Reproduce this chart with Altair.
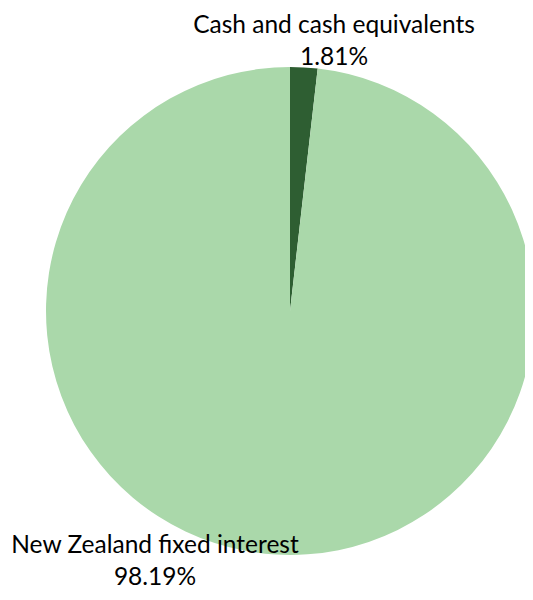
import altair as alt
import pandas as pd

categories = ["Cash and cash equivalents", "New Zealand fixed interest"]
values = [1.81, 98.19]
colors = ["#2e5e32", "#aad8aa"]

df = pd.DataFrame({"category": categories, "value": values, "order": [0, 1]})
df["label"] = df["category"] + "\n" + df["value"].map(lambda v: f"{v:.2f}%")

base = alt.Chart(df)

pie = base.mark_arc(radius=244, stroke=None).encode(
    theta=alt.Theta("value:Q", stack=True),
    order=alt.Order("order:Q"),
    color=alt.Color("category:N", scale=alt.Scale(domain=categories, range=colors), legend=None),
    x=alt.value(282),
    y=alt.value(303),
)

def label(cat, x, y):
    return base.transform_filter(alt.datum.category == cat).mark_text(
        font="Lato", fontSize=24.5, color="#000000", align="center",
        baseline="alphabetic", lineBreak="\n", lineHeight=32,
    ).encode(text="label:N", x=alt.value(x), y=alt.value(y))

chart = alt.layer(
    pie,
    label(categories[0], 326, 25),
    label(categories[1], 147, 545),
).properties(
    width=517, height=584, autosize=alt.AutoSizeParams(type="none"), padding=0
).configure_view(stroke=None)

chart.save("out.html", embed_options={"renderer": "svg", "actions": False})
